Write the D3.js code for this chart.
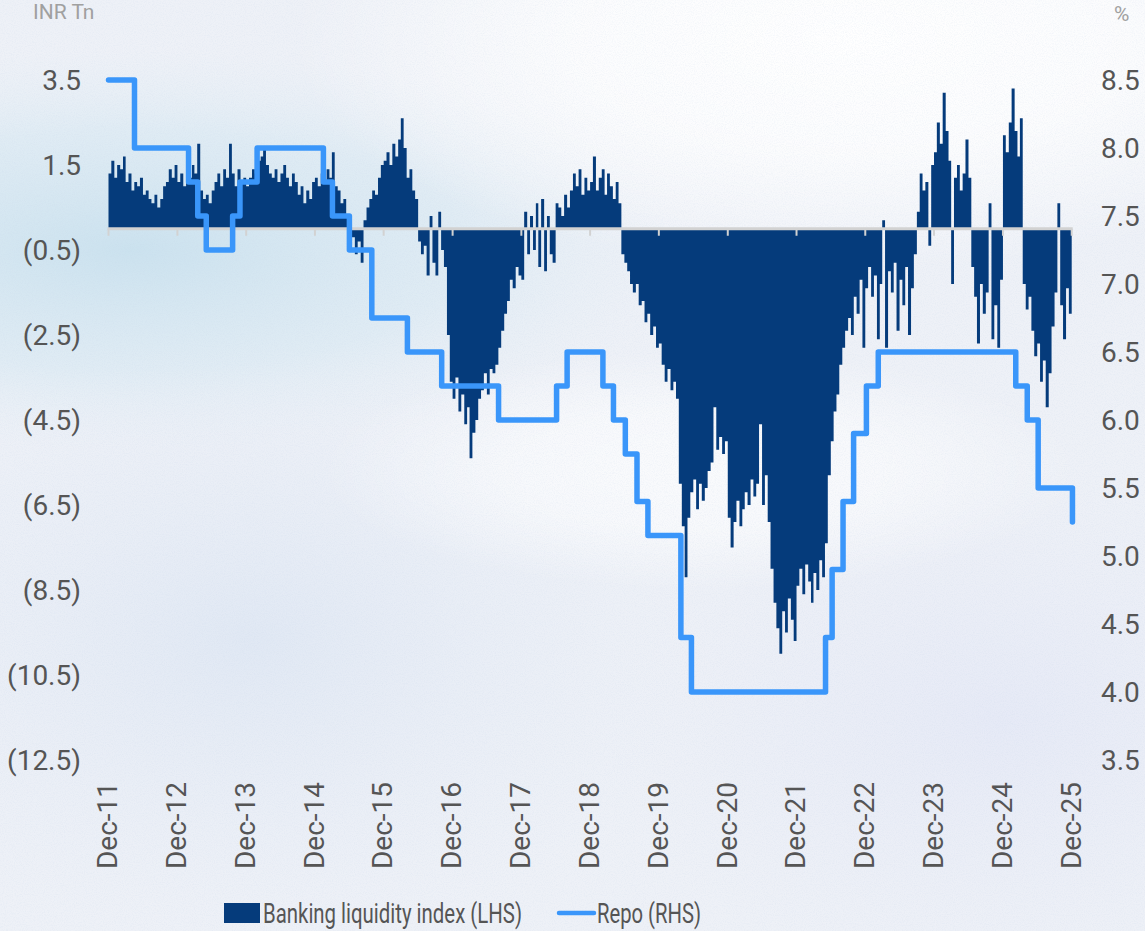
<!DOCTYPE html>
<html>
<head>
<meta charset="utf-8">
<script src="https://cdn.jsdelivr.net/npm/d3@7"></script>
<style>
  html, body { margin: 0; padding: 0; background: #eef1f7; }
  svg { display: block; font-family: Roboto, "Noto Sans", sans-serif; }
</style>
</head>
<body>
<div id="chart"></div>
<script>
const width = 1145;
const height = 931;

// banking liquidity index, INR Tn, two readings per month starting Dec-11
const liquidity = [
  // Dec-11 .. Nov-12
  1.3, 1.6, 1.2, 1.5, 1.4, 1.7, 1.1, 1.3, 0.9, 1.1, 1.0, 1.2, 0.8, 0.9, 0.7, 0.6, 0.8, 0.5, 0.7, 1.0, 1.1, 1.4, 1.2, 1.5,
  // Dec-12 .. Nov-13
  1.1, 1.3, 1.0, 1.4, 1.2, 1.5, 1.3, 2.0, 0.9, 0.7, 0.8, 0.6, 0.9, 1.1, 1.3, 1.0, 1.4, 1.2, 2.0, 1.3, 1.0, 1.4, 1.1, 1.2,
  // Dec-13 .. Nov-14
  1.0, 1.2, 1.4, 1.3, 1.6, 1.7, 1.9, 1.5, 1.3, 1.2, 1.4, 1.1, 1.3, 1.5, 1.2, 1.0, 1.3, 1.1, 0.8, 1.0, 0.6, 0.9, 0.7, 1.1,
  // Dec-14 .. Nov-15
  1.2, 1.0, 1.3, 1.1, 1.4, 1.2, 1.8, 1.0, 0.9, 0.6, 0.7, 0.3, -0.4, -0.2, -0.6, -0.3, -0.8, 0.2, 0.5, 0.7, 0.9, 0.8, 1.2, 1.5,
  // Dec-15 .. Nov-16
  1.6, 1.8, 1.5, 2.0, 1.7, 2.1, 2.6, 1.9, 1.2, 1.4, 0.9, 0.7, -0.3, -0.6, -0.4, -1.1, 0.3, -0.8, -1.1, 0.4, -0.5, -0.9, -2.5, -3.6,
  // Dec-16 .. Nov-17
  -4.0, -3.5, -4.3, -3.9, -4.6, -4.2, -5.4, -4.8, -4.5, -4.0, -3.8, -3.4, -3.9, -3.3, -3.4, -3.2, -2.8, -2.4, -2.0, -1.7, -1.2, -1.4, -0.9, -1.1,
  // Dec-17 .. Nov-18
  -1.2, 0.4, -0.6, 0.3, -0.5, 0.6, -0.9, 0.7, -1.0, 0.3, -0.6, -0.8, 0.6, 0.5, 0.3, 0.8, 0.5, 0.9, 1.3, 1.0, 1.4, 0.8, 1.2, 0.9,
  // Dec-18 .. Nov-19
  1.1, 1.7, 0.9, 1.2, 1.4, 0.8, 1.3, 1.0, 0.7, 1.1, 0.6, -0.6, -0.8, -1.0, -1.3, -1.5, -1.3, -1.8, -1.7, -2.2, -2.0, -2.5, -2.3, -2.8,
  // Dec-19 .. Nov-20
  -2.7, -3.2, -3.6, -3.3, -3.8, -3.6, -4.0, -6.0, -7.0, -8.2, -6.8, -6.2, -5.9, -6.6, -6.0, -6.4, -6.1, -5.7, -5.5, -4.2, -5.2, -4.9, -5.3, -5.0,
  // Dec-20 .. Nov-21
  -6.8, -7.5, -6.9, -6.4, -7.0, -6.6, -6.2, -6.5, -5.9, -6.3, -6.0, -4.6, -6.5, -5.8, -6.9, -8.0, -8.8, -9.4, -10.0, -9.0, -9.5, -8.7, -9.2, -9.7,
  // Dec-21 .. Nov-22
  -8.4, -8.0, -8.6, -7.9, -8.3, -8.8, -8.1, -8.5, -7.8, -8.2, -7.4, -5.8, -5.0, -4.3, -3.9, -3.2, -2.8, -2.4, -2.1, -2.5, -1.6, -2.0, -1.2, -2.8,
  // Dec-22 .. Nov-23
  -1.4, -0.9, -1.6, -1.1, -2.6, -1.3, 0.2, -2.8, -1.0, -1.5, -0.8, -2.4, -1.2, -1.8, -0.9, -2.5, -1.4, -0.6, 0.4, 1.3, 0.9, 1.1, -0.4, 1.5,
  // Dec-23 .. Nov-24
  1.8, 2.5, 2.0, 3.2, 2.3, 1.6, -1.3, 1.2, 1.5, 0.9, 1.3, 2.1, 1.2, -0.9, -1.6, -2.7, -1.3, -2.0, -1.5, 0.6, -2.6, -1.8, -2.8, -1.2,
  // Dec-24 .. Nov-25
  2.2, 1.8, 2.5, 3.3, 2.3, 1.7, 2.6, -1.3, -1.9, -1.6, -2.4, -3.0, -2.7, -3.6, -3.1, -4.2, -3.4, -2.3, -1.5, 0.6, -1.8, -2.6, -1.4, -2.0
];

// policy repo rate changes (%)
const repoDates = [
  "2011-12-01", "2012-04-17", "2013-01-29", "2013-03-19", "2013-05-03", "2013-09-20",
  "2013-10-29", "2014-01-28", "2015-01-15", "2015-03-04", "2015-06-02", "2015-09-29",
  "2016-04-05", "2016-10-04", "2017-08-02", "2018-06-06", "2018-08-01", "2019-02-07",
  "2019-04-04", "2019-06-06", "2019-08-07", "2019-10-04", "2020-03-27", "2020-05-22",
  "2022-05-04", "2022-06-08", "2022-08-05", "2022-09-30", "2022-12-07", "2023-02-08",
  "2025-02-07", "2025-04-09", "2025-06-06", "2025-12-05"
];
const repoRates = [
  8.5, 8.0, 7.75, 7.5, 7.25, 7.5,
  7.75, 8.0, 7.75, 7.5, 7.25, 6.75,
  6.5, 6.25, 6.0, 6.25, 6.5, 6.25,
  6.0, 5.75, 5.4, 5.15, 4.4, 4.0,
  4.4, 4.9, 5.4, 5.9, 6.25, 6.5,
  6.25, 6.0, 5.5, 5.25
];

const leftTicks = [3.5, 1.5, -0.5, -2.5, -4.5, -6.5, -8.5, -10.5, -12.5];
const rightTicks = [8.5, 8.0, 7.5, 7.0, 6.5, 6.0, 5.5, 5.0, 4.5, 4.0, 3.5];
const yearLabels = ["Dec-11", "Dec-12", "Dec-13", "Dec-14", "Dec-15", "Dec-16", "Dec-17", "Dec-18",
  "Dec-19", "Dec-20", "Dec-21", "Dec-22", "Dec-23", "Dec-24", "Dec-25"];

const barColor = "#053b7b";
const repoColor = "#3a96fa";
const textColor = "#555555";

const parse = d3.timeParse("%Y-%m-%d");
const repo = repoDates.map((d, i) => ({ date: parse(d), value: repoRates[i] }));
const halfMonth = i => new Date(2011, 11 + Math.floor(i / 2), i % 2 ? 16 : 1);
const liq = liquidity.map((v, i) => ({ date: halfMonth(i), value: v }));
// closing point so the last step has its width
liq.push({ date: halfMonth(liquidity.length), value: liquidity[liquidity.length - 1] });
const tickDates = yearLabels.map((d, i) => new Date(2011 + i, 11, 1));

const x = d3.scaleTime()
  .domain([new Date(2011, 11, 1), new Date(2025, 11, 1)])
  .range([108.5, 1071.7]);
const yL = d3.scaleLinear().domain([3.5, -12.5]).range([80, 760]);
const yR = d3.scaleLinear().domain([8.5, 3.5]).range([80, 760]);

const svg = d3.select("#chart").append("svg")
  .attr("width", width)
  .attr("height", height);

// background wash
const defs = svg.append("defs");
function radial(id, stops) {
  const g = defs.append("radialGradient").attr("id", id);
  stops.forEach(s => g.append("stop").attr("offset", s[0]).attr("stop-color", s[1]).attr("stop-opacity", s[2]));
}
radial("bgWhite", [[0, "#ffffff", 1], [0.5, "#ffffff", 0.8], [1, "#ffffff", 0]]);
radial("bgCyan", [[0, "#c9e1ee", 0.95], [0.6, "#d6e8f2", 0.6], [1, "#e3eef5", 0]]);
radial("bgBlue", [[0, "#dde6f3", 0.8], [1, "#e6ecf6", 0]]);
radial("bgLav", [[0, "#e4e8f6", 0.8], [1, "#e8ebf6", 0]]);

const noise = defs.append("filter").attr("id", "grain")
  .attr("x", 0).attr("y", 0).attr("width", "100%").attr("height", "100%");
noise.append("feTurbulence").attr("type", "fractalNoise").attr("baseFrequency", 0.9)
  .attr("numOctaves", 2).attr("seed", 3).attr("result", "n");
noise.append("feColorMatrix").attr("type", "matrix")
  .attr("values", "0 0 0 0 0.55  0 0 0 0 0.65  0 0 0 0 0.8  0 0 0 -0.9 0.55");

const bg = svg.append("g");
bg.append("rect").attr("width", width).attr("height", height).attr("fill", "#eef1f7");
bg.append("ellipse").attr("cx", 130).attr("cy", 250).attr("rx", 560).attr("ry", 200).attr("fill", "url(#bgCyan)");
bg.append("ellipse").attr("cx", 250).attr("cy", 640).attr("rx", 450).attr("ry", 300).attr("fill", "url(#bgBlue)");
bg.append("ellipse").attr("cx", 1000).attr("cy", 720).attr("rx", 400).attr("ry", 260).attr("fill", "url(#bgLav)");
bg.append("ellipse").attr("cx", 850).attr("cy", 40).attr("rx", 560).attr("ry", 230).attr("fill", "url(#bgWhite)");
bg.append("ellipse").attr("cx", 700).attr("cy", 470).attr("rx", 380).attr("ry", 120).attr("fill", "url(#bgWhite)").attr("opacity", 0.7);
bg.append("rect").attr("width", width).attr("height", height).attr("filter", "url(#grain)").attr("opacity", 0.4);

// liquidity as a stepped column area
const area = d3.area()
  .x(d => x(d.date))
  .y0(yL(0))
  .y1(d => yL(d.value))
  .curve(d3.curveStepAfter);
svg.append("path")
  .datum(liq)
  .attr("d", area)
  .attr("fill", barColor);

// zero line with year ticks
const axisG = svg.append("g").attr("stroke", "#d2d2d2");
axisG.append("line")
  .attr("x1", x(tickDates[0]) - 1).attr("x2", x(halfMonth(liquidity.length)) + 1)
  .attr("y1", yL(0)).attr("y2", yL(0))
  .attr("stroke-width", 3);
axisG.selectAll("line.tick")
  .data(tickDates)
  .join("line")
  .attr("class", "tick")
  .attr("x1", d => x(d)).attr("x2", d => x(d))
  .attr("y1", yL(0)).attr("y2", yL(0) + 7)
  .attr("stroke-width", 2);

// repo line
const line = d3.line()
  .x(d => x(d.date))
  .y(d => yR(d.value))
  .curve(d3.curveStepAfter);
svg.append("path")
  .datum(repo)
  .attr("d", line)
  .attr("fill", "none")
  .attr("stroke", repoColor)
  .attr("stroke-width", 5.5)
  .attr("stroke-linejoin", "round")
  .attr("stroke-linecap", "round");

// left axis labels
const fmt = v => v < 0 ? `(${Math.abs(v).toFixed(1)})` : v.toFixed(1);
svg.append("g")
  .selectAll("text")
  .data(leftTicks)
  .join("text")
  .attr("x", 81)
  .attr("y", d => yL(d))
  .attr("dy", "0.35em")
  .attr("text-anchor", "end")
  .attr("font-size", 28)
  .attr("fill", textColor)
  .text(fmt);

// right axis labels
svg.append("g")
  .selectAll("text")
  .data(rightTicks)
  .join("text")
  .attr("x", 1101)
  .attr("y", d => yR(d))
  .attr("dy", "0.35em")
  .attr("text-anchor", "start")
  .attr("font-size", 28)
  .attr("fill", textColor)
  .text(d => d.toFixed(1));

// x labels
svg.append("g")
  .selectAll("text")
  .data(tickDates)
  .join("text")
  .attr("transform", d => `translate(${x(d) - 1},782) rotate(-90)`)
  .attr("dy", "0.35em")
  .attr("text-anchor", "end")
  .attr("font-size", 28)
  .attr("fill", textColor)
  .text((d, i) => yearLabels[i]);

// axis units
svg.append("text").attr("x", 33).attr("y", 19).attr("font-size", 21).attr("fill", "#a0a0a0").text("INR Tn");
svg.append("text").attr("x", 1114).attr("y", 21).attr("font-size", 21).attr("fill", "#a0a0a0").text("%");

// legend
const lg = svg.append("g");
lg.append("rect").attr("x", 224).attr("y", 903).attr("width", 36).attr("height", 20).attr("fill", barColor);
lg.append("text").attr("x", 263).attr("y", 923).attr("font-size", 27).attr("fill", textColor)
  .attr("textLength", 259).attr("lengthAdjust", "spacingAndGlyphs")
  .text("Banking liquidity index (LHS)");
lg.append("line").attr("x1", 559).attr("x2", 594).attr("y1", 913).attr("y2", 913)
  .attr("stroke", repoColor).attr("stroke-width", 4.5).attr("stroke-linecap", "round");
lg.append("text").attr("x", 597).attr("y", 923).attr("font-size", 27).attr("fill", textColor)
  .attr("textLength", 104).attr("lengthAdjust", "spacingAndGlyphs")
  .text("Repo (RHS)");
</script>
</body>
</html>
